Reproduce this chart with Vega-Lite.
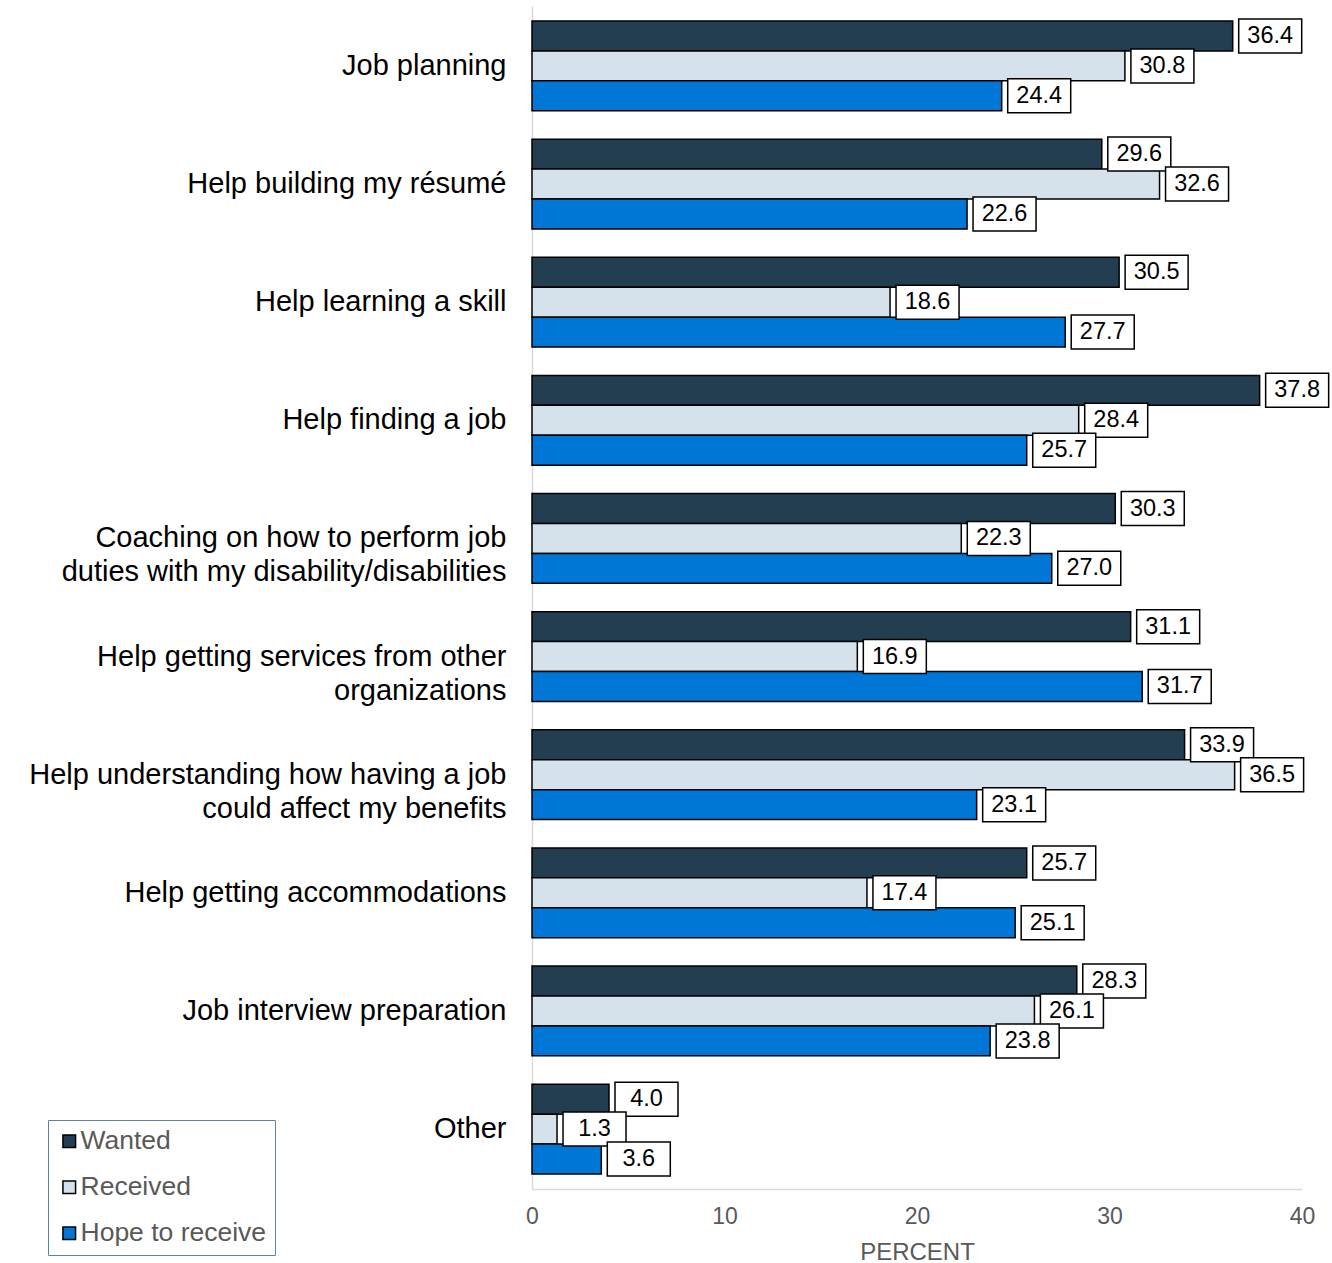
{
  "$schema": "https://vega.github.io/schema/vega-lite/v6.json",
  "autosize": {"type": "none"},
  "width": 770,
  "height": 1183,
  "padding": {"left": 532, "top": 6, "right": 30, "bottom": 74},
  "background": "white",
  "config": {
    "view": {"stroke": null},
    "font": "Liberation Sans"
  },
  "data": {
    "values": [
      {"category": "Job planning", "series": "Wanted", "value": 36.4},
      {"category": "Job planning", "series": "Received", "value": 30.8},
      {"category": "Job planning", "series": "Hope to receive", "value": 24.4},
      {"category": "Help building my résumé", "series": "Wanted", "value": 29.6},
      {"category": "Help building my résumé", "series": "Received", "value": 32.6},
      {"category": "Help building my résumé", "series": "Hope to receive", "value": 22.6},
      {"category": "Help learning a skill", "series": "Wanted", "value": 30.5},
      {"category": "Help learning a skill", "series": "Received", "value": 18.6},
      {"category": "Help learning a skill", "series": "Hope to receive", "value": 27.7},
      {"category": "Help finding a job", "series": "Wanted", "value": 37.8},
      {"category": "Help finding a job", "series": "Received", "value": 28.4},
      {"category": "Help finding a job", "series": "Hope to receive", "value": 25.7},
      {"category": "Coaching on how to perform job|duties with my disability/disabilities", "series": "Wanted", "value": 30.3},
      {"category": "Coaching on how to perform job|duties with my disability/disabilities", "series": "Received", "value": 22.3},
      {"category": "Coaching on how to perform job|duties with my disability/disabilities", "series": "Hope to receive", "value": 27.0},
      {"category": "Help getting services from other|organizations", "series": "Wanted", "value": 31.1},
      {"category": "Help getting services from other|organizations", "series": "Received", "value": 16.9},
      {"category": "Help getting services from other|organizations", "series": "Hope to receive", "value": 31.7},
      {"category": "Help understanding how having a job|could affect my benefits", "series": "Wanted", "value": 33.9},
      {"category": "Help understanding how having a job|could affect my benefits", "series": "Received", "value": 36.5},
      {"category": "Help understanding how having a job|could affect my benefits", "series": "Hope to receive", "value": 23.1},
      {"category": "Help getting accommodations", "series": "Wanted", "value": 25.7},
      {"category": "Help getting accommodations", "series": "Received", "value": 17.4},
      {"category": "Help getting accommodations", "series": "Hope to receive", "value": 25.1},
      {"category": "Job interview preparation", "series": "Wanted", "value": 28.3},
      {"category": "Job interview preparation", "series": "Received", "value": 26.1},
      {"category": "Job interview preparation", "series": "Hope to receive", "value": 23.8},
      {"category": "Other", "series": "Wanted", "value": 4.0},
      {"category": "Other", "series": "Received", "value": 1.3},
      {"category": "Other", "series": "Hope to receive", "value": 3.6}
    ]
  },
  "encoding": {
    "y": {
      "field": "category",
      "type": "nominal",
      "sort": null,
      "scale": {"paddingInner": 0.24, "paddingOuter": 0.127},
      "axis": {
        "title": null,
        "labelExpr": "split(datum.label, '|')",
        "labelFontSize": 29,
        "labelColor": "black",
        "labelLimit": 700,
        "labelPadding": 26,
        "labelLineHeight": 34,
        "ticks": false,
        "domainColor": "#d9d9d9",
        "domainWidth": 1.5
      }
    },
    "yOffset": {
      "field": "series",
      "type": "nominal",
      "sort": ["Wanted", "Received", "Hope to receive"],
      "scale": {"paddingInner": 0, "paddingOuter": 0}
    }
  },
  "layer": [
    {
      "mark": {"type": "bar", "stroke": "black", "strokeWidth": 1.5},
      "encoding": {
        "x": {
          "field": "value",
          "type": "quantitative",
          "scale": {"domain": [0, 40], "nice": false},
          "axis": {
            "title": "PERCENT",
            "titleFontSize": 24,
            "titleFontWeight": "normal",
            "titleColor": "#595959",
            "titlePadding": 12,
            "values": [0, 10, 20, 30, 40],
            "labelFontSize": 23,
            "labelColor": "#595959",
            "labelPadding": 16,
            "labelFlush": false,
            "ticks": false,
            "grid": false,
            "domainColor": "#d9d9d9",
            "domainWidth": 1.5
          }
        },
        "color": {
          "field": "series",
          "type": "nominal",
          "sort": ["Wanted", "Received", "Hope to receive"],
          "scale": {
            "domain": ["Wanted", "Received", "Hope to receive"],
            "range": ["#243e51", "#d5e2eb", "#0077d6"]
          },
          "legend": {
            "title": null,
            "orient": "none",
            "legendX": -484,
            "legendY": 1114,
            "symbolType": "square",
            "symbolSize": 160,
            "symbolStrokeColor": "black",
            "symbolStrokeWidth": 1.5,
            "labelFontSize": 26.5,
            "labelColor": "#595959",
            "labelOffset": -2,
            "labelLimit": 400,
            "rowPadding": 19,
            "padding": 8,
            "strokeColor": "#5b83a8",
            "fillColor": "white"
          }
        }
      }
    },
    {
      "mark": {"type": "bar", "fill": "white", "stroke": "black", "strokeWidth": 1.5, "xOffset": 6, "x2Offset": 69, "height": 34},
      "encoding": {
        "x": {"field": "value", "type": "quantitative"},
        "x2": {"field": "value"}
      }
    },
    {
      "mark": {"type": "text", "align": "center", "baseline": "middle", "dx": 37.5, "fontSize": 23.5, "color": "black"},
      "encoding": {
        "x": {"field": "value", "type": "quantitative"},
        "text": {"field": "value", "type": "quantitative", "format": ".1f"}
      }
    }
  ]
}
